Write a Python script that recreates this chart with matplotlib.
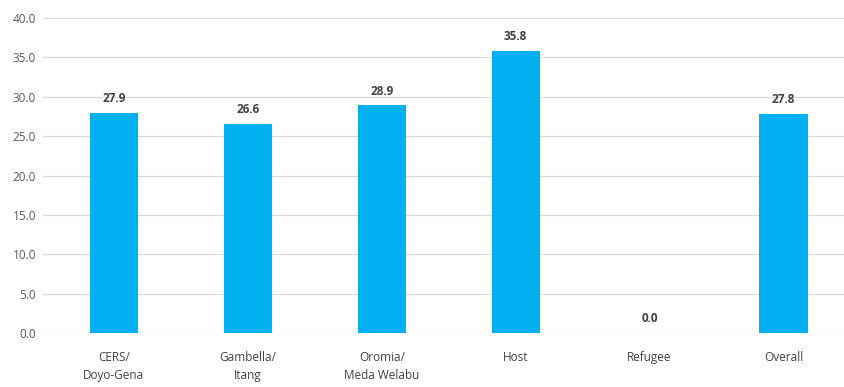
import matplotlib.pyplot as plt

# --- dados ---
categories = ["CERS/\nDoyo-Gena", "Gambella/\nItang", "Oromia/\nMeda Welabu",
              "Host", "Refugee", "Overall"]
values = [27.9, 26.6, 28.9, 35.8, 0.0, 27.8]
yticks = [0, 5, 10, 15, 20, 25, 30, 35, 40]

plt.rcParams["font.family"] = ["Open Sans", "DejaVu Sans"]

fig = plt.figure(figsize=(8.45, 3.87), dpi=100)
ax = fig.add_axes([0.0509, 0.1395, 0.9491, 0.814])

x = range(len(categories))
ax.bar(x, values, width=0.36, color="#00B0F0", zorder=3)

# rotulos de valor
for i, v in zip(x, values):
    ax.text(i, v + 1.0, f"{v:.1f}", ha="center", va="bottom",
            fontsize=8.5, fontweight="bold", color="#404040")

ax.set_ylim(0, 40)
ax.set_xlim(-0.53, 5.46)
ax.set_yticks(yticks)
ax.set_yticklabels([f"{t:.1f}" for t in yticks], fontsize=8.5, color="#595959")
ax.set_xticks(list(x))
ax.set_xticklabels(categories, fontsize=8.5, color="#404040", linespacing=1.5)
ax.tick_params(axis="both", length=0)
ax.tick_params(axis="x", pad=13)
ax.tick_params(axis="y", pad=5)

ax.grid(axis="y", color="#D9D9D9", linewidth=0.9, zorder=0)
for s in ax.spines.values():
    s.set_visible(False)

fig.savefig("out.png", dpi=100)
